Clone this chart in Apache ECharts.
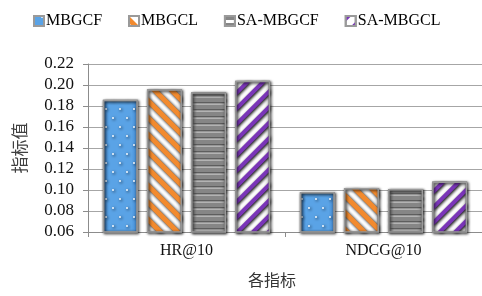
<!DOCTYPE html>
<html><head><meta charset="utf-8">
<script src="https://cdn.jsdelivr.net/npm/echarts@6/dist/echarts.min.js"></script>
<style>html,body{margin:0;padding:0;background:#fff}#c{width:482px;height:296px}</style>
</head><body><div id="c"></div>
<script>
const categories = ['HR@10', 'NDCG@10'];
const seriesNames = ['MBGCF', 'MBGCL', 'SA-MBGCF', 'SA-MBGCL'];
const mbgcf = [0.186, 0.098];
const mbgcl = [0.196, 0.102];
const saMbgcf = [0.193, 0.101];
const saMbgcl = [0.204, 0.108];
const yTicks = [0.06, 0.08, 0.10, 0.12, 0.14, 0.16, 0.18, 0.20, 0.22];

const serif = '"Liberation Serif", "Times New Roman", serif';
const cjk = '"Noto Sans CJK SC", sans-serif';

function hGrad(edge, mid) {
  return {type:'linear', x:0, y:0, x2:1, y2:0, colorStops:[
    {offset:0, color:edge},{offset:0.18, color:mid},{offset:0.82, color:mid},{offset:1, color:edge}]};
}
const styles = [
  {color: hGrad('#3f86cf', '#5aa3e6'),
   decal:{symbol:'circle', symbolSize:1, color:'rgba(255,255,255,0.95)',
          dashArrayX:[[2,12],[0,7,2,5]], dashArrayY:[2,7]}},
  {color: hGrad('#dcdcdc', '#ffffff'),
   decal:{symbol:'rect', symbolSize:1, color:'#f28a2e',
          dashArrayX:[1,0], dashArrayY:[5,7], rotation:Math.PI/4}},
  {color: hGrad('#cfcfcf', '#ffffff'),
   decal:{symbol:'rect', symbolSize:1, color:'#868686',
          dashArrayX:[1,0], dashArrayY:[4,3], rotation:0}},
  {color: hGrad('#dcdcdc', '#ffffff'),
   decal:{symbol:'rect', symbolSize:1, color:'#7a35b8',
          dashArrayX:[1,0], dashArrayY:[4,7], rotation:-Math.PI/4}}
];
const data = [mbgcf, mbgcl, saMbgcf, saMbgcl];

const chart = echarts.init(document.getElementById('c'), null, {renderer:'canvas'});
chart.setOption({
  animation:false,
  aria:{enabled:false},
  legend:{
    top:8, left:28, itemWidth:10, itemHeight:10, itemGap:26,
    icon:'rect',
    textStyle:{fontFamily:serif, fontSize:16, color:'#000', padding:[0,0,0,-3]},
    data:seriesNames
  },
  grid:{left:88, right:0, top:64, bottom:64},
  xAxis:{
    type:'category', data:categories,
    axisLine:{lineStyle:{color:'#8c8c8c', width:1}},
    axisTick:{show:true, length:5, lineStyle:{color:'#8c8c8c'}},
    axisLabel:{fontFamily:serif, fontSize:16, color:'#111', margin:11},
    name:'各指标', nameLocation:'middle', nameGap:40,
    nameTextStyle:{fontFamily:cjk, fontSize:16, color:'#333', padding:[0,26,0,0]}
  },
  yAxis:{
    type:'value', min:0.06, max:0.22, interval:0.02,
    axisLine:{show:true, lineStyle:{color:'#8c8c8c'}},
    axisTick:{show:true, length:5, lineStyle:{color:'#8c8c8c'}},
    splitLine:{lineStyle:{color:'#a6a6a6', width:1}},
    axisLabel:{fontFamily:serif, fontSize:17, color:'#111', margin:14,
      formatter:v=>{const t=yTicks.find(x=>Math.abs(x-v)<1e-9); return (t!==undefined?t:v).toFixed(2);}},
    name:'指标值', nameLocation:'middle', nameGap:60,
    nameTextStyle:{fontFamily:cjk, fontSize:17, color:'#404040'}
  },
  series: seriesNames.map((n,i)=>({
    name:n, type:'bar', data:data[i],
    barWidth:35, barGap:'26%',
    itemStyle:{color:styles[i].color, decal:styles[i].decal,
      borderColor:'#9a9a9a', borderWidth:1.5,
      shadowColor:'rgba(0,0,0,0.25)', shadowBlur:3, shadowOffsetX:1, shadowOffsetY:1}
  }))
});
</script></body></html>
